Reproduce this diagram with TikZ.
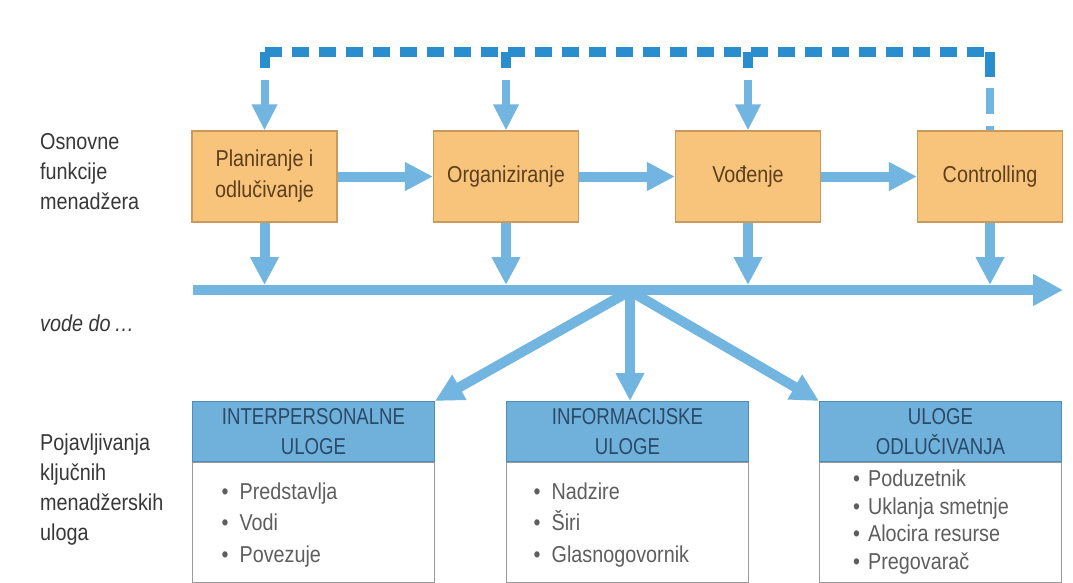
\documentclass[tikz,border=0pt]{standalone}
\usepackage{fontspec}
\setmainfont[FakeStretch=0.86]{Liberation Sans}
\newfontfamily\hdrfont[FakeStretch=0.81]{Liberation Sans}
\usetikzlibrary{arrows.meta}
\definecolor{dashblue}{HTML}{2A8DCE}
\definecolor{arrblue}{HTML}{72B5E0}
\definecolor{boxfill}{HTML}{F8C47C}
\definecolor{boxline}{HTML}{C99A5E}
\definecolor{hdrfill}{HTML}{6FB1DB}
\definecolor{hdrline}{HTML}{4F8DB5}
\definecolor{hdrtext}{HTML}{2B4A68}
\definecolor{boxtext}{HTML}{5C3F1C}
\definecolor{bultext}{HTML}{5E5E5E}
\definecolor{labtext}{HTML}{383838}
\definecolor{bodyline}{HTML}{9A9A9A}
\begin{document}
\begin{tikzpicture}[x=1pt,y=-1pt,
  fbox/.style={draw=boxline, line width=1.2pt, fill=boxfill, minimum width=145pt,
    minimum height=91pt, inner sep=0pt, text=boxtext,
    font=\fontsize{23}{31}\selectfont, align=center},
  hdr/.style={draw=hdrline, line width=1pt, fill=hdrfill, minimum width=242pt,
    minimum height=60pt, inner sep=0pt, text=hdrtext,
    font=\hdrfont\fontsize{23}{30}\selectfont, align=center},
  body/.style={draw=bodyline, line width=0.8pt, fill=white, minimum width=242pt,
    minimum height=120pt, inner sep=0pt},
  bul/.style={anchor=west, inner sep=0pt, text=bultext, align=left},
  lab/.style={anchor=west, inner sep=0pt, text=labtext, align=left,
    font=\fontsize{23}{30}\selectfont},
  arr/.style={draw=arrblue, line width=10pt, -{Triangle[length=28pt,width=27pt]}},
  darr/.style={draw=arrblue, line width=8pt, -{Triangle[length=26pt,width=24pt]}},
  dashl/.style={draw=dashblue, line width=10.5pt, dash pattern=on 17pt off 10pt},
  dashd/.style={draw=dashblue, line width=10pt},
  dashlt/.style={draw=arrblue, line width=8pt, dash pattern=on 26pt off 12pt}
]
\useasboundingbox (0,0) rectangle (1073,582);
\fill[white] (0,0) rectangle (1073,582);

% left labels
\node[lab] (l1) at (40,172) {Osnovne\\funkcije\\menadžera};
\node[lab, font=\itshape\fontsize{23}{30}\selectfont] (l2) at (40,323) {vode do\,\dots};
\node[lab] (l3) at (40,490) {Pojavljivanja\\ključnih\\menadžerskih\\uloga};

% top boxes
\node[fbox] (b1) at (264.5,176.5) {Planiranje i\\odlučivanje};
\node[fbox] (b2) at (506,176.5) {Organiziranje};
\node[fbox] (b3) at (748,176.5) {Vođenje};
\node[fbox] (b4) at (990,176.5) {Controlling};

% horizontal arrows between boxes
\draw[arr] (b1.east) -- (b2.west);
\draw[arr] (b2.east) -- (b3.west);
\draw[arr] (b3.east) -- (b4.west);

% feedback dashed loop
\coordinate (c1) at (264.5,52);
\coordinate (c4) at (990,52);
\draw[dashlt] (990,88) -- (b4.north);
\draw[dashd] (c4) -- (990,77);
\foreach \b in {b1,b2,b3}{
  \draw[darr] (\b.north |- 0,80) -- (\b.north);
  \draw[dashd] (\b.north |- c1) -- (\b.north |- 0,68);
}
\draw[dashl] (c1) -- (c4);

% main line
\coordinate (ml) at (193,290);
\coordinate (mr) at (1063,290);
\draw[arr, -{Triangle[length=30pt,width=30pt]}] (ml) -- (mr);
\foreach \b in {b1,b2,b3,b4}{
  \draw[arr] (\b.south) -- (\b.south |- 0,285);
}

% bottom boxes
\node[hdr] (h1) at (313.5,431.5) {INTERPERSONALNE\\ULOGE};
\node[body, anchor=north] (k1) at (h1.south) {};
\node[hdr] (h2) at (627.5,431.5) {INFORMACIJSKE\\ULOGE};
\node[body, anchor=north] (k2) at (h2.south) {};
\node[hdr] (h3) at (940.5,431.5) {ULOGE\\ODLUČIVANJA};
\node[body, anchor=north] (k3) at (h3.south) {};

\node[bul, font=\fontsize{23}{31.5}\selectfont] (t1) at (221.5,525)
  {•\hspace{11pt}Predstavlja\\•\hspace{11pt}Vodi\\•\hspace{11pt}Povezuje};
\node[bul, font=\fontsize{23}{31.5}\selectfont] (t2) at (533.5,525)
  {•\hspace{11pt}Nadzire\\•\hspace{11pt}Širi\\•\hspace{11pt}Glasnogovornik};
\node[bul, font=\fontsize{23}{27.5}\selectfont] (t3) at (853,522)
  {•\hspace{8pt}Poduzetnik\\•\hspace{8pt}Uklanja smetnje\\•\hspace{8pt}Alocira resurse\\•\hspace{8pt}Pregovarač};

% fan arrows
\coordinate (fan) at (630,291);
\draw[arr] (fan) -- (h1.north east);
\draw[arr] (fan) -- (fan |- h2.north);
\draw[arr] (fan) -- (h3.north west);
\end{tikzpicture}
\end{document}
